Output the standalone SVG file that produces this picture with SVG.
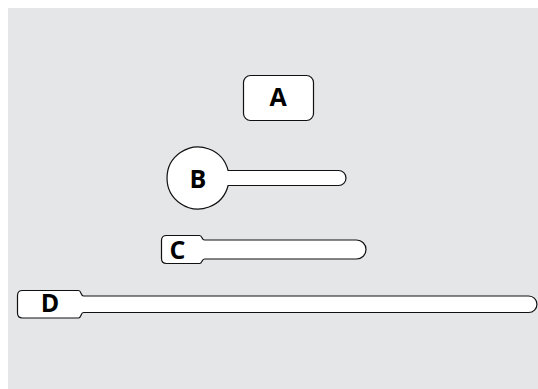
<svg xmlns="http://www.w3.org/2000/svg" width="538" height="389" viewBox="0 0 538 389">
<style>
.shape{fill:#fff;stroke:#111;stroke-width:1.2}
.lbl{font-family:"Open Sans","Noto Sans",sans-serif;font-weight:bold;font-size:25px;fill:#000;text-anchor:middle}
</style>
<rect x="0" y="0" width="538" height="389" fill="#fff"/>
<rect x="8" y="8" width="530" height="381" fill="#e5e6e8"/>
<g id="connectors"></g>
<g id="A">
<rect class="shape" x="243.5" y="75.5" width="70" height="45" rx="7"/>
<text class="lbl" x="278" y="106">A</text>
</g>
<g id="B">
<path class="shape" d="M228.1,170.5 H338.5 A7.5,7.5 0 0 1 338.5,185.5 H228.1 A31,31 0 1 1 228.1,170.5 Z"/>
<text class="lbl" x="198" y="187.5">B</text>
</g>
<g id="C">
<path class="shape" d="M166.5,235.5 H199.5 C202.5,235.5 201.5,240 204.5,240 H356.5 A9.5,9.5 0 0 1 356.5,259 H204.5 C201.5,259 202.5,263.5 199.5,263.5 H166.5 Q161.5,263.5 161.5,258.5 V240.5 Q161.5,235.5 166.5,235.5 Z"/>
<text class="lbl" x="177.5" y="258.5">C</text>
</g>
<g id="D">
<path class="shape" d="M22.5,290.5 H78.5 C81.5,290.5 80.5,296 83.5,296 H528.7 A8.25,8.25 0 0 1 528.7,312.5 H83.5 C80.5,312.5 81.5,318 78.5,318 H22.5 Q17.5,318 17.5,313 V295.5 Q17.5,290.5 22.5,290.5 Z"/>
<text class="lbl" x="50" y="312">D</text>
</g>
</svg>
